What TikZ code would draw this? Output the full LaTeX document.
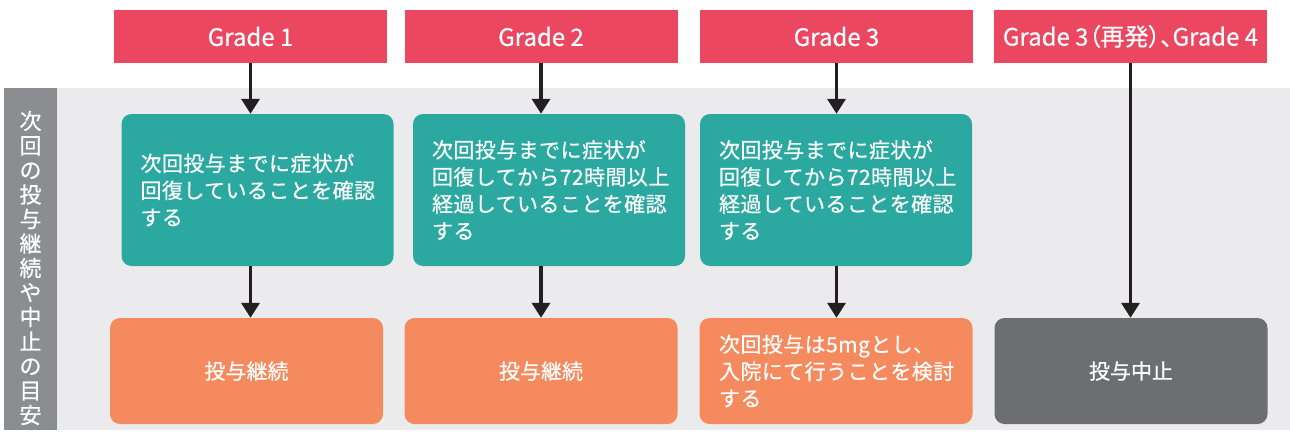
\documentclass[tikz,border=0pt]{standalone}
\usepackage{fontspec}
\setmainfont[FakeBold=0.5]{Noto Sans CJK JP}
\newfontfamily\paltfont[RawFeature=+palt,FakeBold=0.5]{Noto Sans CJK JP}
\newfontfamily\wideletters[LetterSpace=2,FakeBold=0.5]{Noto Sans CJK JP}
\usetikzlibrary{arrows.meta}

\definecolor{gradered}{HTML}{EB4760}
\definecolor{checkteal}{HTML}{2BA9A1}
\definecolor{resorange}{HTML}{F58A5E}
\definecolor{stopgray}{HTML}{6D6E72}
\definecolor{stripgray}{HTML}{8C8D91}
\definecolor{bandgray}{HTML}{EBEBED}
\definecolor{arrowblack}{HTML}{231F20}

\begin{document}
\begin{tikzpicture}[x=1pt,y=-1pt,
  grade/.style={fill=gradered, text=white, minimum width=273pt, minimum height=53pt,
    inner sep=0pt, font=\fontsize{24}{28}\selectfont},
  check/.style={fill=checkteal, text=white, rounded corners=10pt, minimum width=272pt,
    minimum height=152pt, text width=234pt, align=left, inner sep=0pt,
    font=\wideletters\fontsize{21}{27}\selectfont},
  result/.style={fill=resorange, text=white, rounded corners=10pt, minimum width=273pt,
    minimum height=106pt, inner sep=0pt, font=\fontsize{21}{27}\selectfont},
  flow/.style={draw=arrowblack, line width=3.5pt, -{Triangle[width=18pt,length=15pt]}}
]
  % Bounding box
  \useasboundingbox (0,0) rectangle (1290,434);

  % Background band and side strip
  \fill[bandgray] (57,88) rectangle (1290,430);
  \fill[stripgray] (4,88) rectangle (57,430);
  \node[text=white, align=center, inner sep=0pt, font=\fontsize{22}{24.5}\selectfont]
    (side) at (30.5,268) {次\\回\\の\\投\\与\\継\\続\\や\\中\\止\\の\\目\\安};

  % Grades
  \node[grade] (g1) at (250.5,36.5) {Grade 1};
  \node[grade] (g2) at (541,36.5)   {Grade 2};
  \node[grade] (g3) at (836.5,36.5) {Grade 3};
  \node[grade] (g4) at (1130.5,36.5) {\paltfont Grade 3（再発）、Grade 4};

  % Checks
  \node[check] (chk1) at (257.5,190) {次回投与までに症状が\\回復していることを確認\\する};
  \node[check] (chk2) at (549,190)   {次回投与までに症状が\\回復してから72時間以上\\経過していることを確認\\する};
  \node[check] (chk3) at (836,190)   {次回投与までに症状が\\回復してから72時間以上\\経過していることを確認\\する};

  % Results
  \node[result] (res1) at (246.5,371) {投与継続};
  \node[result] (res2) at (541,371)   {投与継続};
  \node[result, text width=234pt, align=left, font=\wideletters\fontsize{21}{27}\selectfont]
    (res3) at (836,371) {次回投与は5mgとし、\\入院にて行うことを検討\\する};
  \node[result, fill=stopgray] (res4) at (1131,371) {投与中止};

  % Arrows
  \draw[flow] (g1.south) -- (g1.south |- chk1.north);
  \draw[flow] (g1.south |- chk1.south) -- (g1.south |- res1.north);
  \draw[flow] (g2.south) -- (g2.south |- chk2.north);
  \draw[flow] (g2.south |- chk2.south) -- (g2.south |- res2.north);
  \draw[flow] (g3.south) -- (g3.south |- chk3.north);
  \draw[flow] (g3.south |- chk3.south) -- (g3.south |- res3.north);
  \draw[flow] (g4.south) -- (g4.south |- res4.north);
\end{tikzpicture}
\end{document}
